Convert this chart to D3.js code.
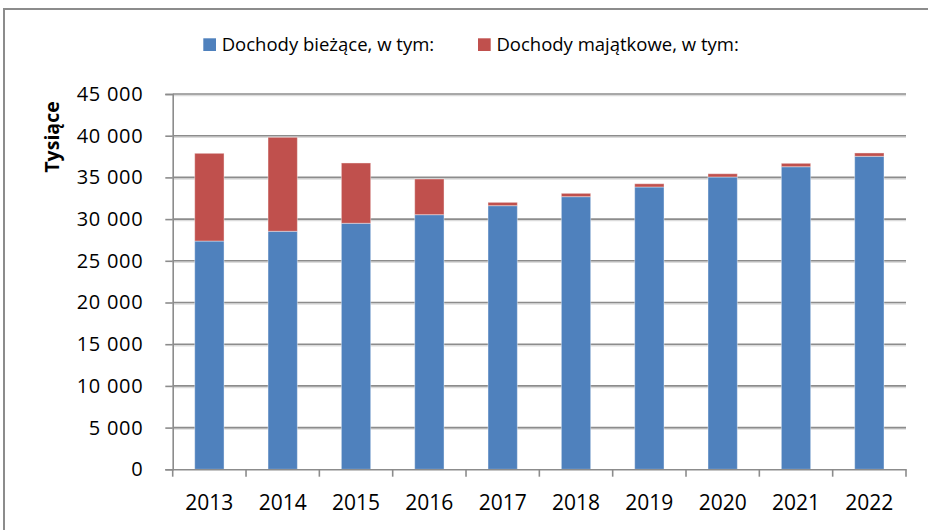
<!DOCTYPE html>
<html>
<head>
<meta charset="utf-8">
<script src="https://cdn.jsdelivr.net/npm/d3@7"></script>
<style>
	body { margin: 0; background: #fff; }
	#chart { width: 928px; height: 530px; }
	text { font-family: "Open Sans", "Noto Sans", sans-serif; fill: #000; }
</style>
</head>
<body>
<div id="chart"></div>
<script>
// data (thousands)
const years = ["2013", "2014", "2015", "2016", "2017", "2018", "2019", "2020", "2021", "2022"];
const biezace = [27370, 28540, 29500, 30530, 31610, 32690, 33850, 35050, 36280, 37530];
const majatkowe = [10520, 11270, 7230, 4280, 400, 400, 390, 390, 410, 400];
const seriesNames = ["Dochody bieżące, w tym:", "Dochody majątkowe, w tym:"];
const seriesColors = ["#4F81BD", "#C0504D"];
const yTicks = [0, 5000, 10000, 15000, 20000, 25000, 30000, 35000, 40000, 45000];

class StackedBars {
	constructor(parentElement) {
		this.parentElement = parentElement;
		this.initVis();
	}

	initVis() {
		let vis = this;

		vis.margin = {top: 94, right: 22, bottom: 60.7, left: 172.7};
		vis.width = 928 - vis.margin.left - vis.margin.right;
		vis.height = 530 - vis.margin.top - vis.margin.bottom;

		vis.root = d3.select("#" + vis.parentElement).append("svg")
			.attr("width", 928)
			.attr("height", 530);

		// outer frame of the chart area
		vis.root.append("rect")
			.attr("x", 4)
			.attr("y", 9)
			.attr("width", 940)
			.attr("height", 540)
			.attr("fill", "none")
			.attr("stroke", "#8c8c8c")
			.attr("stroke-width", 2);

		vis.svg = vis.root.append("g")
			.attr("transform", "translate(" + vis.margin.left + "," + vis.margin.top + ")");

		vis.x = d3.scaleBand()
			.domain(years)
			.range([0, vis.width])
			.paddingInner(0.6)
			.paddingOuter(0.3);
		vis.y = d3.scaleLinear()
			.domain([0, 45000])
			.range([vis.height, 0]);

		vis.stackData = years.map((year, i) => ({year: year, b: biezace[i], m: majatkowe[i]}));
		vis.stack = d3.stack().keys(["b", "m"]);

		vis.updateVis();
	}

	updateVis() {
		let vis = this;

		// gridlines (with a faint Excel-like shadow)
		vis.svg.append("g")
			.selectAll("line")
			.data(yTicks.filter(d => d > 0))
			.join("line")
			.attr("x1", 0)
			.attr("x2", vis.width)
			.attr("y1", d => vis.y(d) + 1.5)
			.attr("y2", d => vis.y(d) + 1.5)
			.attr("stroke", "#dcdcdc")
			.attr("stroke-width", 1.5);
		vis.svg.append("g")
			.selectAll("line")
			.data(yTicks.filter(d => d > 0))
			.join("line")
			.attr("x1", 0)
			.attr("x2", vis.width)
			.attr("y1", d => vis.y(d))
			.attr("y2", d => vis.y(d))
			.attr("stroke", "#8c8c8c")
			.attr("stroke-width", 1.6);

		// stacked bars
		vis.svg.append("g")
			.selectAll("g")
			.data(vis.stack(vis.stackData))
			.join("g")
			.attr("fill", (d, i) => seriesColors[i])
			.selectAll("rect")
			.data(d => d)
			.join("rect")
			.attr("x", d => vis.x(d.data.year))
			.attr("width", vis.x.bandwidth())
			.attr("y", d => vis.y(d[1]))
			.attr("height", d => vis.y(d[0]) - vis.y(d[1]))
			.attr("stroke", "#ffffff")
			.attr("stroke-opacity", 0.4)
			.attr("stroke-width", 1);

		// y axis
		vis.yAxis = d3.axisLeft(vis.y)
			.tickValues(yTicks)
			.tickSize(7.4)
			.tickPadding(22)
			.tickFormat(d => d3.format(",")(d).replace(/,/g, " "));
		let yg = vis.svg.append("g")
			.attr("class", "y-axis axis")
			.call(vis.yAxis);
		yg.select(".domain").attr("stroke", "#8c8c8c").attr("stroke-width", 1.6);
		yg.selectAll(".tick line").attr("stroke", "#8c8c8c").attr("stroke-width", 1.6);
		yg.selectAll(".tick text")
			.style("font-family", "'Open Sans', sans-serif")
			.style("font-size", "20px")
			.style("letter-spacing", "0.7px")
			.attr("fill", "#000");

		// x axis with ticks on category boundaries
		vis.xAxis = d3.axisBottom(vis.x)
			.tickSize(0)
			.tickPadding(26);
		let xg = vis.svg.append("g")
			.attr("class", "x-axis axis")
			.attr("transform", "translate(0," + vis.height + ")")
			.call(vis.xAxis);
		xg.select(".domain").attr("stroke", "#8c8c8c").attr("stroke-width", 1.6);
		xg.selectAll(".tick text")
			.style("font-family", "'Open Sans', sans-serif")
			.style("font-size", "21px")
			.attr("fill", "#000");
		xg.append("g")
			.selectAll("line")
			.data(years.concat(["end"]))
			.join("line")
			.attr("x1", (d, i) => i * vis.x.step())
			.attr("x2", (d, i) => i * vis.x.step())
			.attr("y1", 0)
			.attr("y2", 7.4)
			.attr("stroke", "#8c8c8c")
			.attr("stroke-width", 1.6);

		// y title
		vis.root.append("text")
			.attr("transform", "translate(59,137) rotate(-90)")
			.attr("text-anchor", "middle")
			.style("font-size", "19.5px")
			.style("font-weight", "bold")
			.text("Tysiące");

		// legend
		let legendX = [203.3, 478];
		let legend = vis.root.append("g")
			.selectAll("g")
			.data(seriesNames)
			.join("g")
			.attr("transform", (d, i) => "translate(" + legendX[i] + ",38.3)");
		legend.append("rect")
			.attr("width", 12.7)
			.attr("height", 12.7)
			.attr("fill", (d, i) => seriesColors[i]);
		legend.append("text")
			.attr("x", 18.4)
			.attr("y", 12.9)
			.style("font-size", "18.5px")
			.text(d => d);
	}
}

new StackedBars("chart");
</script>
</body>
</html>
